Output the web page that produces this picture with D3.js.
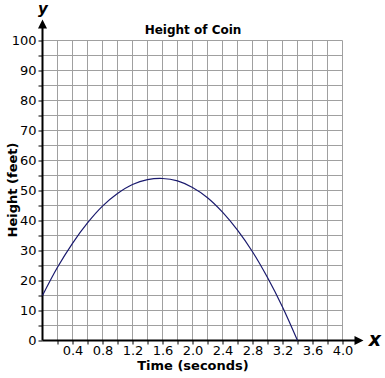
<!DOCTYPE html>
<html>
<head>
<meta charset="utf-8">
<script src="https://cdn.jsdelivr.net/npm/d3@7"></script>
<style>
  body { margin: 0; background: #fff; }
  text { font-family: "DejaVu Sans", Verdana, sans-serif; }
</style>
</head>
<body>
<div id="chart"></div>
<script>
// values
const times = [0, 0.2, 0.4, 0.6, 0.8, 1.0, 1.2, 1.4, 1.6, 1.8, 2.0, 2.2, 2.4, 2.6, 2.8, 3.0, 3.2, 3.4];
const heights = [15, 24.4, 32.4, 39.2, 44.8, 49, 52, 53.6, 54, 53.2, 51, 47.6, 42.8, 36.8, 29.6, 21, 11.2, 0];
const xTickLabels = ["0.4", "0.8", "1.2", "1.6", "2.0", "2.4", "2.8", "3.2", "3.6", "4.0"];
const yTickLabels = ["0", "10", "20", "30", "40", "50", "60", "70", "80", "90", "100"];

function init() {
  const margin = { top: 40, right: 42, bottom: 38, left: 43 },
    width = 300,
    height = 300;

  const root = d3
    .select("#chart")
    .append("svg")
    .attr("width", 385)
    .attr("height", 378);

  const svg = root
    .append("g")
    .attr("transform", `translate(${margin.left - 0.5},${margin.top + 0.5})`);

  const x = d3.scaleLinear().domain([0, 4]).range([0, width]);
  const y = d3.scaleLinear().domain([0, 100]).range([height, 0]);

  // grid
  const grid = svg.append("g").attr("stroke", "#a0a0a0").attr("stroke-width", 1);
  grid
    .selectAll("line.v")
    .data(d3.range(1, 21).map((i) => i * 0.2))
    .join("line")
    .attr("x1", (d) => Math.round(x(d)))
    .attr("x2", (d) => Math.round(x(d)))
    .attr("y1", 0)
    .attr("y2", height);
  grid
    .selectAll("line.h")
    .data(d3.range(1, 21).map((i) => i * 5))
    .join("line")
    .attr("y1", (d) => Math.round(y(d)))
    .attr("y2", (d) => Math.round(y(d)))
    .attr("x1", 0)
    .attr("x2", width);

  // x axis
  const xAxis = svg
    .append("g")
    .attr("transform", `translate(0,${height})`)
    .call(
      d3
        .axisBottom(x)
        .tickValues(d3.range(1, 21).map((i) => i * 0.2))
        .tickSize(4)
        .tickFormat((d) => {
          const s = d.toFixed(1);
          return xTickLabels.includes(s) ? s : "";
        })
    );
  xAxis.select(".domain").remove();
  xAxis
    .selectAll("text")
    .attr("font-size", "13px")
    .attr("y", 5)
    .attr("dy", "0.71em")
    .attr("fill", "#000");

  // y axis
  const yAxis = svg
    .append("g")
    .call(
      d3
        .axisLeft(y)
        .tickValues(d3.range(0, 21).map((i) => i * 5))
        .tickSize(4)
        .tickFormat((d) => (yTickLabels.includes(String(d)) ? String(d) : ""))
    );
  yAxis.select(".domain").remove();
  yAxis.selectAll("text").attr("font-size", "13px").attr("x", -6).attr("fill", "#000");
  yAxis.selectAll(".tick line").attr("stroke", "#000");
  xAxis.selectAll(".tick line").attr("stroke", "#000");

  // axis lines with arrows
  svg
    .append("line")
    .attr("x1", 0)
    .attr("x2", 0)
    .attr("y1", height)
    .attr("y2", -16)
    .attr("stroke", "#000")
    .attr("stroke-width", 2);
  svg
    .append("path")
    .attr("d", "M0,-21 L-4.5,-12 L4.5,-12 Z")
    .attr("fill", "#000");
  svg
    .append("line")
    .attr("x1", 0)
    .attr("x2", width + 16)
    .attr("y1", height)
    .attr("y2", height)
    .attr("stroke", "#000")
    .attr("stroke-width", 2);
  svg
    .append("path")
    .attr("d", `M${width + 21},${height} L${width + 12},${height - 4.5} L${width + 12},${height + 4.5} Z`)
    .attr("fill", "#000");

  // curve
  const line = d3
    .line()
    .x((d, i) => x(times[i]))
    .y((d) => y(d))
    .curve(d3.curveCatmullRom);
  svg
    .append("path")
    .datum(heights)
    .attr("fill", "none")
    .attr("stroke", "#1a1a6e")
    .attr("stroke-width", 1.2)
    .attr("d", line);

  // labels
  root
    .append("text")
    .attr("x", 193)
    .attr("y", 34)
    .attr("text-anchor", "middle")
    .attr("font-size", "12px")
    .attr("font-weight", "bold")
    .text("Height of Coin");

  root
    .append("text")
    .attr("x", 193)
    .attr("y", 370)
    .attr("text-anchor", "middle")
    .attr("font-size", "13px")
    .attr("font-weight", "bold")
    .text("Time (seconds)");

  root
    .append("text")
    .attr("transform", "translate(17,190) rotate(-90)")
    .attr("text-anchor", "middle")
    .attr("font-size", "13px")
    .attr("font-weight", "bold")
    .text("Height (feet)");

  root
    .append("text")
    .attr("x", 43)
    .attr("y", 14)
    .attr("text-anchor", "middle")
    .attr("font-size", "15px")
    .attr("font-weight", "bold")
    .attr("font-style", "italic")
    .text("y");

  root
    .append("text")
    .attr("x", 375)
    .attr("y", 346)
    .attr("text-anchor", "middle")
    .attr("font-size", "19px")
    .attr("font-weight", "bold")
    .attr("font-style", "italic")
    .text("x");
}

window.addEventListener("load", init);
</script>
</body>
</html>
